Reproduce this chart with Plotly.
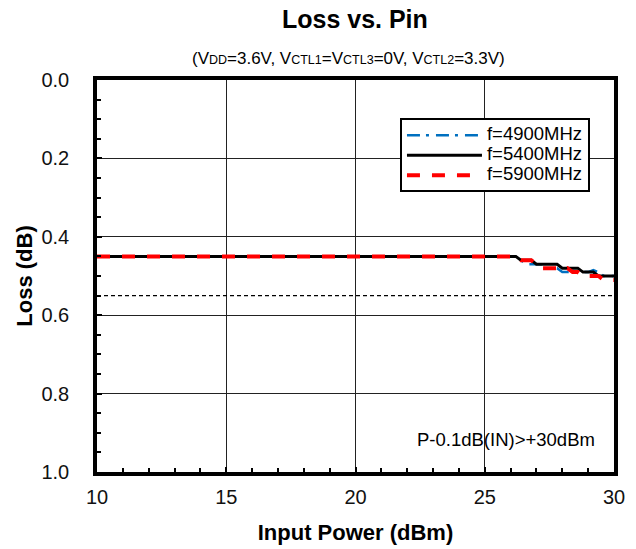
import plotly.graph_objects as go

# ---- data ----
pin_dbm = [10, 12, 14, 16, 18, 20, 22, 24, 26, 26.2, 26.4, 26.6, 26.8, 27.0, 27.2, 27.4,
           27.6, 27.8, 28.0, 28.2, 28.4, 28.6, 28.8, 29.0, 29.2, 29.4, 29.6, 29.8, 30.0]
loss_4900 = [0.45, 0.45, 0.45, 0.45, 0.45, 0.45, 0.45, 0.45, 0.45, 0.45, 0.46, 0.47, 0.47,
             0.47, 0.47, 0.48, 0.48, 0.48, 0.49, 0.49, 0.49, 0.49, 0.49, 0.49, 0.485, 0.49,
             0.50, 0.50, 0.50]
loss_5400 = [0.45, 0.45, 0.45, 0.45, 0.45, 0.45, 0.45, 0.45, 0.45, 0.45, 0.46, 0.46, 0.46,
             0.47, 0.47, 0.47, 0.47, 0.47, 0.48, 0.48, 0.48, 0.48, 0.49, 0.49, 0.49, 0.50,
             0.50, 0.50, 0.50]
loss_5900 = [0.45, 0.45, 0.45, 0.45, 0.45, 0.45, 0.45, 0.45, 0.45, 0.45, 0.46, 0.46, 0.46,
             0.47, 0.48, 0.48, 0.48, 0.48, 0.485, 0.48, 0.49, 0.49, 0.50, 0.50, 0.50, 0.50,
             0.51, 0.51, 0.51]
ref_x = [10, 30]
ref_loss = [0.55, 0.55]
series_names = ["f=4900MHz", "f=5400MHz", "f=5900MHz"]
y_ticks = [0.0, 0.2, 0.4, 0.6, 0.8, 1.0]
x_ticks = [10, 15, 20, 25, 30]

FONT = "Liberation Sans, Arial, sans-serif"


def legend_label(name):
    return "<span style='font-size:18.5px'>" + name + "</span>"


fig = go.Figure()
fig.add_trace(go.Scatter(x=ref_x, y=ref_loss, mode="lines", showlegend=False,
                         line=dict(color="black", width=1.3, dash="4px,3px"), hoverinfo="skip"))
fig.add_trace(go.Scatter(x=pin_dbm, y=loss_4900, mode="lines", name=legend_label(series_names[0]),
                         line=dict(color="#0070C0", width=2.5, dash="13px,6px,3px,7px")))
fig.add_trace(go.Scatter(x=pin_dbm, y=loss_5400, mode="lines", name=legend_label(series_names[1]),
                         line=dict(color="black", width=3)))
fig.add_trace(go.Scatter(x=pin_dbm, y=loss_5900, mode="lines", name=legend_label(series_names[2]),
                         line=dict(color="#FF0000", width=4, dash="13px,12px")))

axis_common = dict(
    showline=True, linecolor="black", linewidth=3.5, mirror=True,
    showgrid=True, gridcolor="#222222", gridwidth=1,
    ticks="inside", ticklen=5, tickwidth=2, tickcolor="black",
    tickfont=dict(family=FONT, size=20, color="#111111"),
    zeroline=False, automargin=False,
)

fig.update_layout(
    width=636, height=549,
    margin=dict(l=97, r=22, t=80, b=77),
    paper_bgcolor="white", plot_bgcolor="white",
    font=dict(family=FONT, color="black"),
    title=dict(text="<b>Loss vs. Pin</b>", x=0.558, xanchor="center",
               y=1 - 19 / 549, yanchor="middle", yref="container",
               font=dict(family=FONT, size=25, color="black")),
    xaxis=dict(axis_common, range=[10, 30], tickvals=x_ticks, ticklabelstandoff=4,
               minor=dict(dtick=1, ticks="inside", ticklen=4, tickwidth=2, tickcolor="black", showgrid=False),
               title=dict(text="<b>Input Power (dBm)</b>", standoff=19,
                          font=dict(family=FONT, size=22, color="black"))),
    yaxis=dict(axis_common, range=[1.0, 0.0], tickvals=y_ticks, tickformat=".1f",
               ticklabelstandoff=20,
               minor=dict(dtick=0.05, ticks="inside", ticklen=4, tickwidth=2, tickcolor="black", showgrid=False),
               title=dict(text="<b>Loss (dB)</b>", standoff=4,
                          font=dict(family=FONT, size=22, color="black"))),
    legend=dict(x=0.586, y=0.902, xanchor="left", yanchor="top",
                bgcolor="white", bordercolor="black", borderwidth=2,
                font=dict(family=FONT, size=13, color="black"),
                itemwidth=75, tracegroupgap=0),
    annotations=[
        dict(text="(V<span style='font-size:12.5px'>DD</span>=3.6V, V<span style='font-size:12.5px'>CTL1</span>=V<span style='font-size:12.5px'>CTL3</span>=0V, V<span style='font-size:12.5px'>CTL2</span>=3.3V)",
             xref="paper", yref="paper", x=0.487, y=1 + (80 - 58) / 392,
             xanchor="center", yanchor="middle", showarrow=False,
             font=dict(family=FONT, size=17, color="black")),
        dict(text="P-0.1dB(IN)>+30dBm", xref="paper", yref="paper",
             x=0.967, y=1 - (439 - 80) / 392, xanchor="right", yanchor="middle",
             showarrow=False, font=dict(family=FONT, size=18.5, color="black")),
    ],
)

fig.write_html("out.html", config={"displayModeBar": False},
               post_script="document.body.style.margin='0';")
